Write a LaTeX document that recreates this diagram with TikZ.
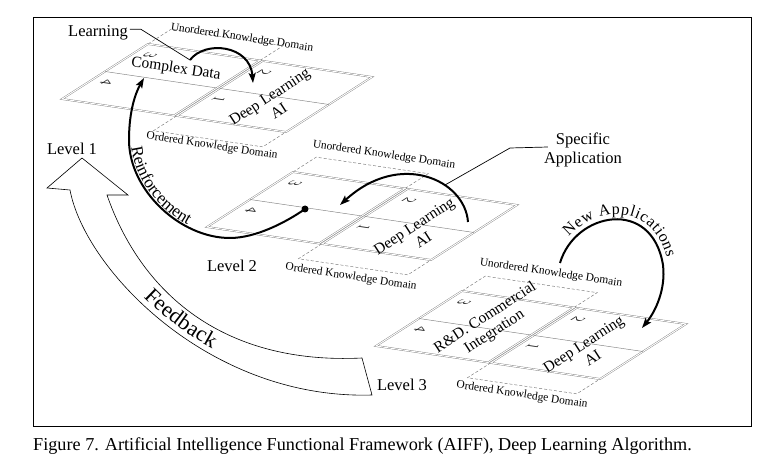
\documentclass[tikz,border=0pt]{standalone}
\usepackage{fontspec}
\setmainfont{Liberation Serif}
\usetikzlibrary{arrows.meta,decorations.text}
\tikzset{
  boardline/.style={draw=black!55, line width=0.35pt, double=white, double distance=1pt},
  gridline/.style={draw=black!50, line width=0.45pt},
  extline/.style={draw=black!55, line width=0.45pt, dash pattern=on 3pt off 2pt},
  numlabel/.style={font=\fontsize{16}{16}\selectfont, text=black!85, inner sep=0pt, cm={-0.843,-0.539,0.989,-0.146,(0,0)}},
  domlabel/.style={font=\fontsize{11.4}{11.4}\selectfont, rotate=-8.5, inner sep=0pt},
  boardtext/.style={font=\fontsize{15.5}{17}\selectfont, align=center, inner sep=0pt},
  lvltext/.style={font=\fontsize{16.5}{19}\selectfont, inner sep=0pt, align=center},
  bigarc/.style={line width=2pt, -{Stealth[length=10pt,width=7pt,inset=2pt]}},
  leader/.style={line width=0.7pt},
}
\newcommand{\kdplane}[2]{%
  \begin{scope}[shift={#1}, x={(224pt,-33pt)}, y={(86pt,55pt)}]
    \draw[extline] (0,1) -- (0,1.27) -- (0.5,1.27) -- (0.5,1);
    \draw[extline] (0.512,0) -- (0.512,-0.27) -- (1,-0.27) -- (1,0);
    \draw[boardline] (0,0) -- (0.5,0) -- (0.5,1) -- (0,1) -- cycle;
    \draw[boardline] (0.512,0) -- (1,0) -- (1,1) -- (0.512,1) -- cycle;
    \draw[gridline] (0,0.5) -- (0.5,0.5);
    \draw[gridline] (0.512,0.5) -- (1,0.5);
    \node[numlabel] (#2three) at (0.07,0.84) {3};
    \node[numlabel] (#2four) at (0.07,0.34) {4};
    \node[numlabel] (#2two) at (0.58,0.84) {2};
    \node[numlabel] (#2one) at (0.57,0.34) {1};
  \end{scope}}
\begin{document}
\begin{tikzpicture}[x=1pt,y=-1pt]
\useasboundingbox (0,0) rectangle (777,457);
\draw[line width=1pt] (33,18) rectangle (751,426);

% planes
\kdplane{(62,99)}{pa}
\kdplane{(207,227)}{pb}
\kdplane{(376,346)}{pc}

% level 1 texts
\node[domlabel] (u1) at (242,38) {Unordered Knowledge Domain};
\node[domlabel] (o1) at (212,146) {Ordered Knowledge Domain};
\node[boardtext, rotate=-8.5] (cd) at (176,69) {Complex Data};
\node[boardtext, rotate=33] (dl1) at (274,103.5) {Deep Learning\\AI};
% level 2 texts
\node[domlabel] (u2) at (384,155) {Unordered Knowledge Domain};
\node[domlabel] (o2) at (351,277) {Ordered Knowledge Domain};
\node[boardtext, rotate=33] (dl2) at (418.5,233) {Deep Learning\\AI};
% level 3 texts
\node[domlabel] (u3) at (551,273) {Unordered Knowledge Domain};
\node[domlabel] (o3) at (522,395) {Ordered Knowledge Domain};
\node[boardtext, rotate=33] (rd) at (490,325) {R\&D. Commercial\\Integration};
\node[boardtext, rotate=33] (dl3) at (588,351) {Deep Learning\\AI};

% level labels
\node[lvltext, anchor=base] (lv1) at (72,155) {Level 1};
\node[lvltext, anchor=base] (lv2) at (232,272) {Level 2};
\node[lvltext, anchor=base] (lv3) at (402,390) {Level 3};
\node[lvltext, anchor=base] (learn) at (98,37) {Learning};
\node[lvltext] (spec) at (583,150) {Specific\\Application};

% feedback arrow
\draw[line width=0.6pt, fill=white] (372,395) .. controls (210,400) and (85,270) .. (70,190)
  -- (47,188) -- (82,158) -- (128,195) -- (107,195)
  .. controls (140,290) and (220,365) .. (362,358) -- cycle;
\path[decorate, decoration={text along path, text={|\fontsize{22}{22}\selectfont|Feedback},
  text align={left indent=118pt}, raise=-7pt}]
  (88,192) .. controls (112,280) and (215,382) .. (367,376);

% learning arrow
\coordinate (ls) at (190,60);
\draw[bigarc] (ls) .. controls (205,40) and (250,45) .. (253,83);
\draw[leader] (learn.east) ++(2,-4) coordinate (lk) -- ++(11,0) coordinate (lk2) -- (ls);

% reinforcement arrow
\node[circle, fill=black, inner sep=0pt, minimum size=7pt] (dot) at (305,209) {};
\draw[bigarc] (dot.center) .. controls (285,223) and (255,238) .. (230,238)
  .. controls (180,238) and (129,190) .. (129,140)
  .. controls (129,110) and (136,92) .. (144,78);
\path[decorate, decoration={text along path, text={|\fontsize{17}{17}\selectfont|Reinforcement},
  text align={left indent=8pt}, raise=2pt}]
  (129,140) .. controls (129,190) and (180,238) .. (230,238);

% level 2 arrow
\coordinate (l2s) at (468,222);
\draw[bigarc] (l2s) .. controls (465,180) and (400,150) .. (340,205);
\coordinate (sa) at (445,185);
\coordinate (sk) at (510,148);
\draw[leader] ([shift={(4,-3)}]spec.west) -- (sk) -- (sa);

% new applications arrow
\coordinate (nas) at (560,263);
\draw[bigarc] (nas) .. controls (575,212) and (652,197) .. (663,265)
  .. controls (666,290) and (655,312) .. (642,328);
\path[decorate, decoration={text along path, text={|\fontsize{16}{16}\selectfont|New Applications},
  text align={left indent=26pt}, raise=5pt}]
  (560,263) .. controls (575,212) and (652,197) .. (663,265)
  .. controls (666,290) and (655,312) .. (642,328);

% caption
\node[anchor=base west, font=\fontsize{18.2}{18.2}\selectfont, inner sep=0pt] (cap) at (33,450)
  {Figure 7. Artificial Intelligence Functional Framework (AIFF), Deep Learning Algorithm.};
\end{tikzpicture}
\end{document}
